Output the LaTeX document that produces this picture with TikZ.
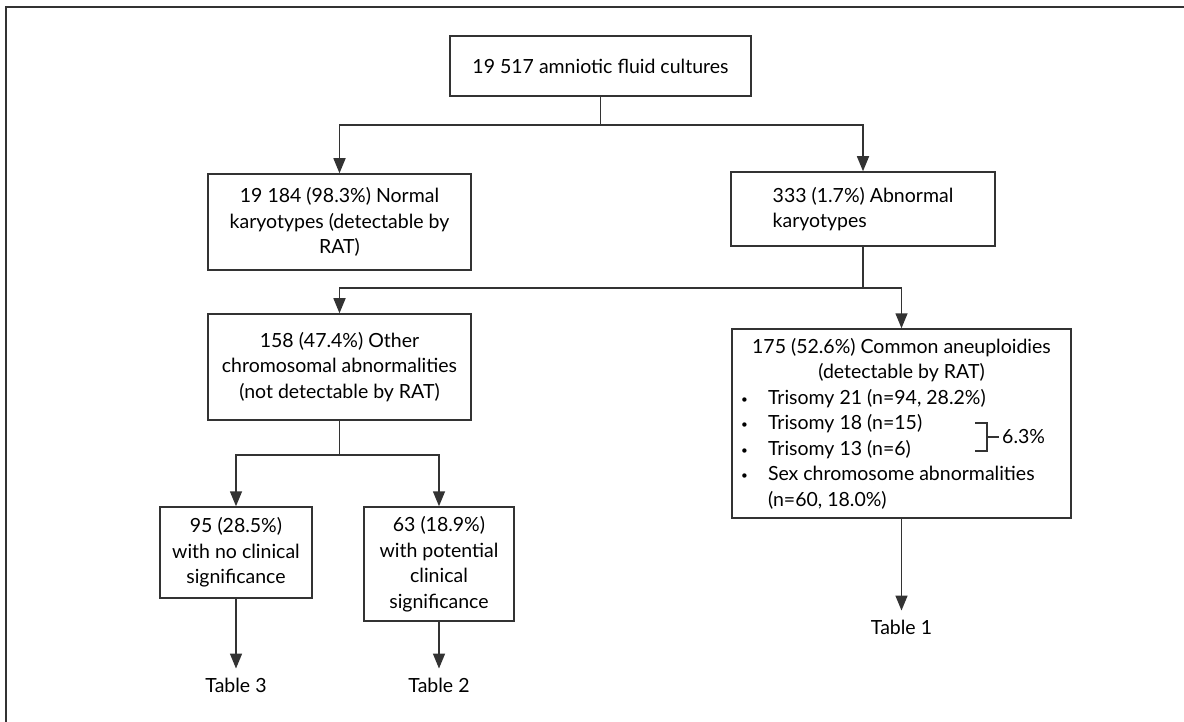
\documentclass[tikz,border=0pt]{standalone}
\usepackage{fontspec}
\setmainfont{Lato}
\usetikzlibrary{arrows.meta}
\newcommand{\fsz}{\fontsize{19.5}{25.5}\selectfont}
\newcommand{\bul}{\makebox[4pt][l]{}\makebox[27pt][l]{\raisebox{1pt}{\scalebox{0.6}{•}}}}
\begin{document}
\begin{tikzpicture}[x=1pt,y=-1pt,
  box/.style={draw=black!80, line width=1.5pt, inner sep=0pt, align=center, font=\fsz},
  lbl/.style={inner sep=0pt, font=\fsz},
  conn/.style={draw=black!80, line width=1.5pt},
  arr/.style={conn, -{Triangle[length=15pt,width=12pt]}}]
\useasboundingbox (0,0) rectangle (1184,722);
\draw[black!80, line width=2pt] (6,730) -- (6,7) -- (1190,7);
% nodes
\node[box, minimum width=301, minimum height=60] (top) at (600.5,66) {19 517 amniotic fluid cultures};
\node[box, minimum width=263, minimum height=96] (normal) at (339.5,222) {19 184 (98.3\%) Normal\\karyotypes (detectable by\\RAT)};
\node[box, minimum width=264, minimum height=74, align=left] (abn) at (863,209) {333 (1.7\%) Abnormal\\karyotypes};
\node[box, minimum width=263, minimum height=106] (other) at (339.5,367) {158 (47.4\%) Other\\chromosomal abnormalities\\(not detectable by RAT)};
\node[box, minimum width=339, minimum height=189] (common) at (901.5,423.5) {\parbox{329pt}{\fsz\centering 175 (52.6\%) Common aneuploidies\\(detectable by RAT)\par\raggedright
\bul Trisomy 21 (n=94, 28.2\%)\\
\bul Trisomy 18 (n=15)\\
\bul Trisomy 13 (n=6)\\
\bul Sex chromosome abnormalities\\
\makebox[31pt][l]{}(n=60, 18.0\%)\par}};
\node[box, minimum width=152, minimum height=91] (b95) at (236,552.5) {95 (28.5\%)\\with no clinical\\significance};
\node[box, minimum width=150, minimum height=114] (b63) at (439,564) {63 (18.9\%)\\with potential\\clinical\\significance};
\node[lbl] (t3) at (236,685) {Table 3};
\node[lbl] (t2) at (439,685) {Table 2};
\node[lbl] (t1) at (901.5,627) {Table 1};
\node[lbl, anchor=west] (pct) at (1002,437) {6.3\%};
% bracket
\draw[conn, line width=1.2pt] (975,423) -- (987,423) -- (987,451) -- (975,451);
\draw[conn, line width=1.2pt] (987,437) -- ([xshift=-3pt]pct.west);
% connectors
\coordinate (j1) at (600.5,125);
\draw[conn] (top.south) -- (j1);
\draw[arr] (j1) -| (normal.north);
\draw[arr] (j1) -| (abn.north);
\coordinate (j2) at (863,288);
\draw[conn] (abn.south) -- (j2);
\draw[arr] (j2) -| (other.north);
\draw[arr] (j2) -| (common.north);
\coordinate (j3) at (339.5,455);
\draw[conn] (other.south) -- (j3);
\draw[arr] (j3) -| (b95.north);
\draw[arr] (j3) -| (b63.north);
\draw[arr] (b95.south) -- ([yshift=9pt]t3.north);
\draw[arr] (b63.south) -- ([yshift=9pt]t2.north);
\draw[arr] (common.south) -- ([yshift=9pt]t1.north);
\end{tikzpicture}
\end{document}
